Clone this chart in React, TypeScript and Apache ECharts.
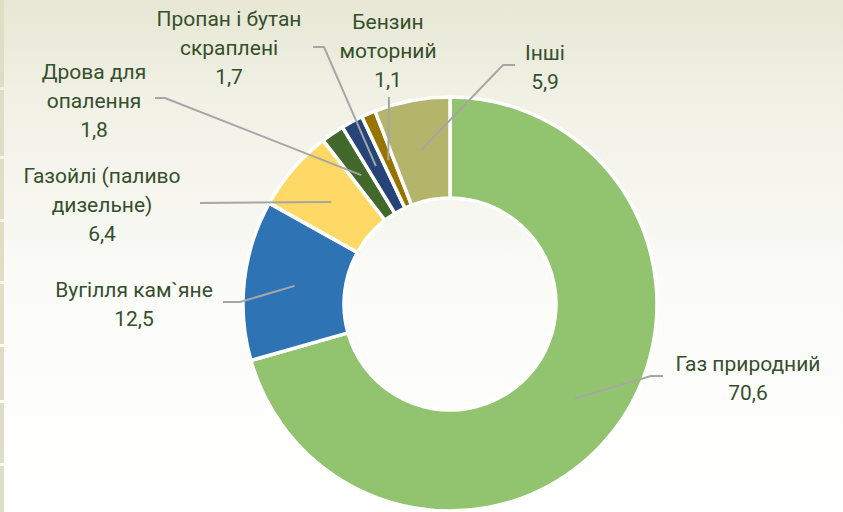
import React, { useEffect, useRef } from "react";
import * as echarts from "echarts";

const categories = [
  "Газ природний",
  "Вугілля кам`яне",
  "Газойлі (паливо\nдизельне)",
  "Дрова для\nопалення",
  "Пропан і бутан\nскраплені",
  "Бензин\nмоторний",
  "Інші",
];
const values = [70.6, 12.5, 6.4, 1.8, 1.7, 1.1, 5.9];
const colors = ["#92c36e", "#2e74b5", "#ffd966", "#43682b", "#264478", "#997300", "#b4b46a"];

// label layout: [labelCenterX, labelCenterY, bendX, bendY, endX, endY]
const labelLayouts: (number | null)[][] = [
  [748, 378, 651, 376, 663, 376],
  [134, 304, 240, 302, 223, 302],
  [102, 205, null, null, 200, 203],
  [94, 101, 165, 98, 155, 98],
  [229, 48, 324, 47, 313, 47],
  [388, 51, null, null, 389, 97],
  [545, 67, 503, 65, 515, 65],
];

// decorative strip on the left edge: [top, bottom]
const stripSegments = [
  [0, 87], [90, 156], [159, 219], [222, 281], [284, 344], [347, 400], [403, 463], [466, 512],
];

const CX = 450;
const CY = 304;
const R_IN = 106;
const R_OUT = 207;

export default function App() {
  const ref = useRef<HTMLDivElement>(null);
  useEffect(() => {
    if (!ref.current) return;
    const chart = echarts.init(ref.current, null, { renderer: "svg" });
    const total = values.reduce((a, b) => a + b, 0);
    const cum: number[] = [];
    let acc = 0;
    values.forEach((v) => {
      cum.push(acc + v / 2);
      acc += v;
    });
    const rMid = (R_IN + R_OUT) / 2;
    const startPt = (i: number) => {
      const a = (cum[i] / total) * Math.PI * 2;
      return [CX + rMid * Math.sin(a), CY - rMid * Math.cos(a)];
    };
    const data = categories.map((c, i) => ({
      name: c,
      value: values[i],
      itemStyle: { color: colors[i] },
    }));

    chart.setOption({
      animation: false,
      backgroundColor: {
        type: "linear",
        x: 0, y: 0, x2: 0, y2: 1,
        colorStops: [
          { offset: 0, color: "#e7e7d4" },
          { offset: 0.2, color: "#f1f1e6" },
          { offset: 0.55, color: "#fbfbf8" },
          { offset: 1, color: "#ffffff" },
        ],
      },
      graphic: stripSegments.map((s) => ({
        type: "rect",
        shape: { x: 0, y: s[0], width: 4, height: s[1] - s[0] },
        style: { fill: "#dedec4" },
        silent: true,
      })),
      series: [
        {
          type: "pie",
          z: 2,
          center: [CX, CY],
          radius: [R_IN, R_OUT],
          startAngle: 90,
          clockwise: true,
          avoidLabelOverlap: false,
          itemStyle: { borderColor: "#ffffff", borderWidth: 3.5 },
          label: { show: false },
          labelLine: { show: false },
          emphasis: { disabled: true },
          silent: true,
          data,
        },
        {
          type: "pie",
          z: 5,
          center: [CX, CY],
          radius: [R_IN, R_OUT],
          startAngle: 90,
          clockwise: true,
          avoidLabelOverlap: false,
          silent: true,
          itemStyle: { color: "rgba(0,0,0,0)", borderWidth: 0 },
          label: {
            show: true,
            position: "outside",
            fontFamily: "Roboto",
            fontSize: 21,
            lineHeight: 29,
            color: "#354f2c",
            align: "center",
            formatter: (p: any) => `${p.name}\n${String(p.value).replace(".", ",")}`,
          },
          labelLine: {
            show: true,
            lineStyle: { color: "#a6a6a6", width: 2 },
          },
          emphasis: { disabled: true },
          labelLayout: (p: any) => {
            const L = labelLayouts[p.dataIndex];
            const s = startPt(p.dataIndex);
            const bend = L[2] == null ? s : [L[2] as number, L[3] as number];
            return {
              x: L[0],
              y: L[1],
              align: "center",
              verticalAlign: "middle",
              labelLinePoints: [s, bend, [L[4] as number, L[5] as number]],
            };
          },
          data: categories.map((c, i) => ({
            name: c,
            value: values[i],
            itemStyle: { color: "rgba(0,0,0,0)" },
          })),
        },
      ],
    });
    return () => chart.dispose();
  }, []);
  return (
    <div
      ref={ref}
      style={{ position: "fixed", left: 0, top: 0, width: 843, height: 512 }}
    />
  );
}
